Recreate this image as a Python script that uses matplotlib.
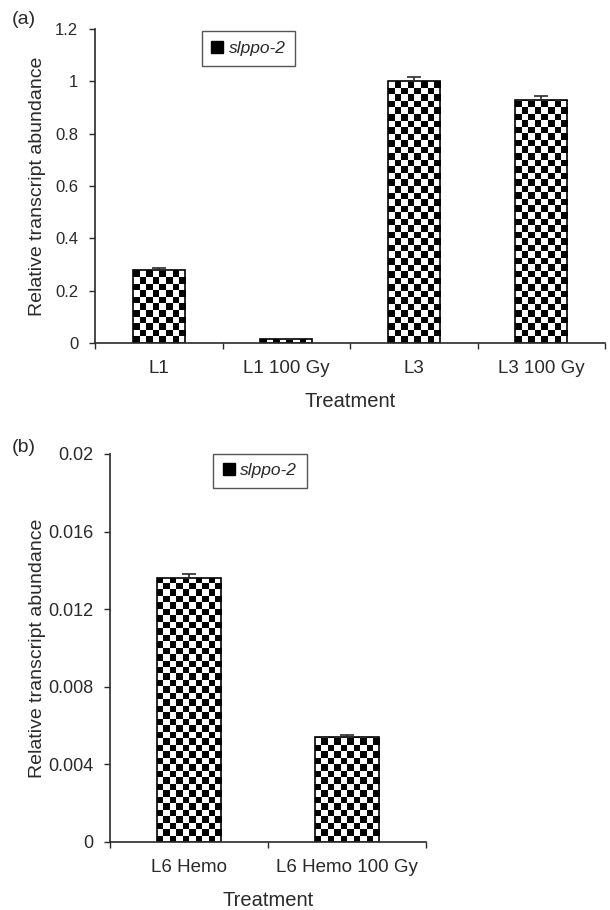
import numpy as np
import matplotlib.pyplot as plt
from matplotlib.patches import Patch

plt.rcParams['font.family'] = ['Liberation Sans', 'DejaVu Sans']

# panel (a)
labels_a = ["L1", "L1 100 Gy", "L3", "L3 100 Gy"]
values_a = [0.28, 0.015, 1.0, 0.93]
errors_a = [0.005, 0.002, 0.015, 0.015]
yticks_a = [0, 0.2, 0.4, 0.6, 0.8, 1, 1.2]
yticklabels_a = ["0", "0.2", "0.4", "0.6", "0.8", "1", "1.2"]

# panel (b)
labels_b = ["L6 Hemo", "L6 Hemo 100 Gy"]
values_b = [0.0136, 0.0054]
errors_b = [0.0002, 0.0001]
yticks_b = [0, 0.004, 0.008, 0.012, 0.016, 0.02]
yticklabels_b = ["0", "0.004", "0.008", "0.012", "0.016", "0.02"]

legend_name = "slppo-2"
ink = "#2a2a2a"


def checker_fill(ax, bars, cell=6.5):
    # checkerboard inside each bar, clipped to the bar outline
    for bar in bars:
        x0, y0 = bar.get_x(), bar.get_y()
        w, h = bar.get_width(), bar.get_height()
        (px0, py0), (px1, py1) = ax.transData.transform([(x0, y0), (x0 + w, y0 + h)])
        ncol = max(1, int(round((px1 - px0) / cell)))
        cw = (px1 - px0) / ncol
        nrow = max(1, int(np.ceil((py1 - py0) / cw)))
        ytop = ax.transData.inverted().transform((px0, py0 + nrow * cw))[1]
        grid = np.add.outer(np.arange(nrow), np.arange(ncol)) % 2
        im = ax.imshow(grid, cmap="gray", vmin=0, vmax=1, origin="lower",
                       extent=(x0, x0 + w, y0, ytop), interpolation="nearest",
                       aspect="auto", zorder=1.5)
        im.set_clip_path(bar)


def panel(ax, labels, values, errors, yticks, yticklabels, ylim, tick_fs,
          ylab_x, xlab_y, leg_anchor):
    x = np.arange(len(labels))
    ax.set_xlim(-0.5, len(labels) - 0.5)
    ax.set_ylim(*ylim)
    bars = ax.bar(x, values, width=0.41, color="white", edgecolor="none", zorder=1)
    checker_fill(ax, bars)
    ax.bar(x, values, width=0.41, fill=False, edgecolor="black", linewidth=1.2, zorder=2)
    ax.errorbar(x, values, yerr=[np.zeros(len(values)), errors], fmt="none",
                ecolor=ink, elinewidth=1.2, capsize=5, capthick=1.2, zorder=3)
    ax.set_xlim(-0.5, len(labels) - 0.5)
    ax.set_ylim(*ylim)

    for s in ["top", "right"]:
        ax.spines[s].set_visible(False)
    for s in ["left", "bottom"]:
        ax.spines[s].set_color(ink)
        ax.spines[s].set_linewidth(1.2)

    ax.set_xticks(x)
    ax.set_xticklabels(labels, fontsize=13.5, color=ink)
    ax.set_xticks(np.arange(len(labels) + 1) - 0.5, minor=True)
    ax.tick_params(axis="x", which="major", length=0, pad=12)
    ax.tick_params(axis="x", which="minor", length=4, width=1, color=ink, direction="out")
    ax.set_yticks(yticks)
    ax.set_yticklabels(yticklabels, fontsize=tick_fs, color=ink)
    ax.tick_params(axis="y", length=4, width=1, color=ink, direction="out", pad=8)

    ax.set_ylabel("Relative transcript abundance", fontsize=14, color=ink)
    ax.yaxis.set_label_coords(ylab_x, 0.5)
    ax.set_xlabel("Treatment", fontsize=14.5, color=ink)
    ax.xaxis.set_label_coords(0.5, xlab_y)

    handle = Patch(facecolor="black", edgecolor="black", hatch="++", linewidth=1)
    leg = ax.legend([handle], [legend_name], loc="upper left", bbox_to_anchor=leg_anchor,
                    frameon=True, fancybox=False, edgecolor=ink, handlelength=0.7,
                    handleheight=0.7, handletextpad=0.3, borderpad=0.55,
                    prop={"style": "italic", "size": 12.5})
    leg.get_frame().set_linewidth(1.0)
    for t in leg.get_texts():
        t.set_color(ink)


fig = plt.figure(figsize=(6.1, 9.1), dpi=100)
ax_a = fig.add_axes([95 / 610, 1 - 343 / 910, 510 / 610, 314 / 910])
ax_b = fig.add_axes([110 / 610, 1 - 842 / 910, 316 / 610, 388 / 910])

panel(ax_a, labels_a, values_a, errors_a, yticks_a, yticklabels_a, (0, 1.2), 12,
      -0.096, -0.157, (0.192, 1.02))
panel(ax_b, labels_b, values_b, errors_b, yticks_b, yticklabels_b, (0, 0.02), 13,
      -0.203, -0.125, (0.30, 1.023))

fig.text(12 / 610, 1 - 20 / 910, "(a)", fontsize=14, color=ink, va="center")
fig.text(12 / 610, 1 - 448 / 910, "(b)", fontsize=14, color=ink, va="center")

plt.savefig("out.png", dpi=100)
